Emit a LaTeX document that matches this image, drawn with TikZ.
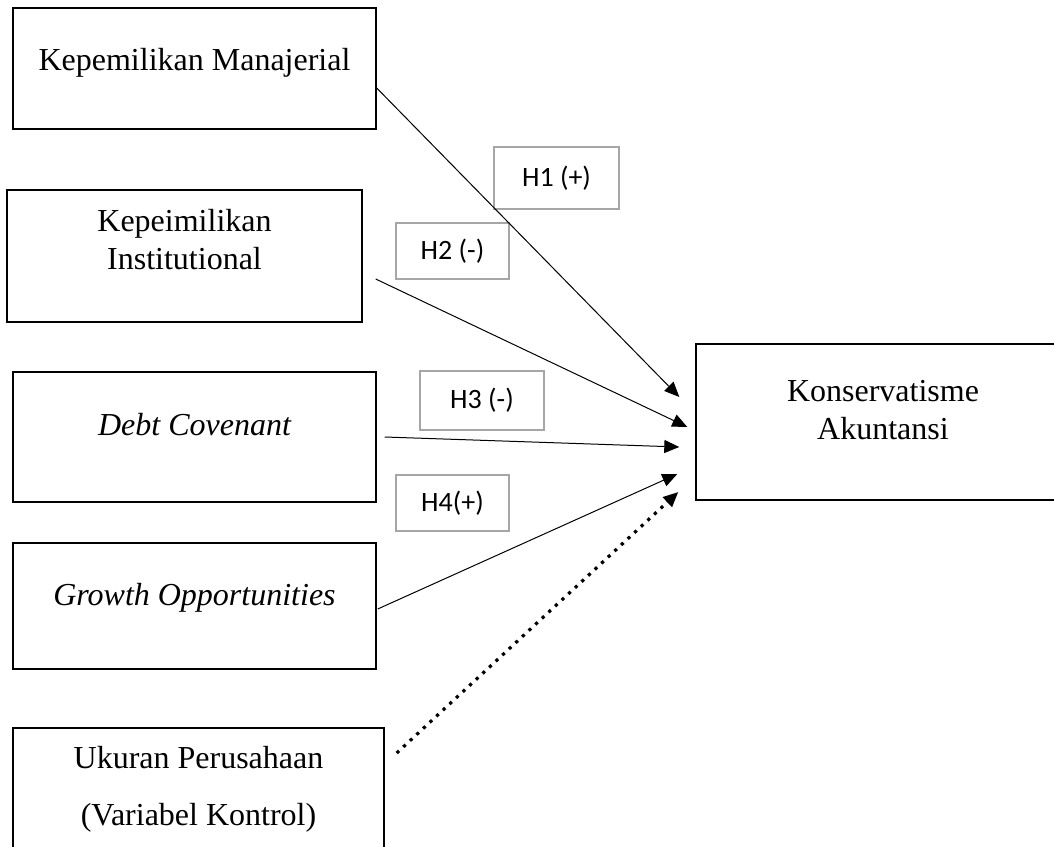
\documentclass[tikz,border=0pt]{standalone}
\usepackage{fontspec}
\setmainfont{Liberation Serif}
\newfontfamily\hypfont{Carlito}
\usetikzlibrary{arrows.meta,calc}
\definecolor{hypgray}{RGB}{166,166,166}
\tikzset{
    varbox/.style={draw, line width=0.7pt, inner sep=0pt},
    vartext/.style={align=center, font=\fontsize{16}{19}\selectfont, inner sep=0pt},
    hypbox/.style={draw=hypgray, line width=0.9pt, minimum width=56.5pt, minimum height=28pt, font=\hypfont\fontsize{14}{16}\selectfont},
    path/.style={line width=0.5pt, -{Triangle[length=7.5pt,width=6.5pt]}},
    ctrl/.style={line width=1.6pt, dash pattern=on 1.6pt off 2.9pt, -{Triangle[length=7.5pt,width=6.5pt]}}
}
\begin{document}
\begin{tikzpicture}[x=0.5pt, y=-0.5pt]
    \useasboundingbox (0,0) rectangle (1054,846);

    % variable boxes
    \node[varbox, minimum width=181.5pt, minimum height=60.5pt] (km) at (194.5,68.5) {};
    \node[varbox, minimum width=177.5pt, minimum height=66pt] (ki) at (184.5,256) {};
    \node[varbox, minimum width=181.5pt, minimum height=65pt] (dc) at (194.5,437) {};
    \node[varbox, minimum width=181.5pt, minimum height=63pt] (go) at (194.5,606) {};
    \node[varbox, minimum width=185.5pt, minimum height=71pt] (uk) at (198.5,799) {};
    \node[varbox, minimum width=187pt, minimum height=78pt] (ka) at (883,422) {};

    % box texts
    \node[vartext, anchor=base] (km-t) at (194.5,70) {Kepemilikan Manajerial};
    \node[vartext] (ki-t) at (184.5,240) {Kepeimilikan\\Institutional};
    \node[vartext, anchor=base] (dc-t) at (194.5,435) {\itshape Debt Covenant};
    \node[vartext, anchor=base] (go-t) at (194.5,605) {\itshape Growth Opportunities};
    \node[vartext] (uk-t) at (198.5,789) {Ukuran Perusahaan\\[9.5pt](Variabel Kontrol)};
    \node[vartext] (ka-t) at (883,410) {Konservatisme\\Akuntansi};

    % hypotheses
    \node[hypbox, minimum width=62.5pt, minimum height=31pt] (h1) at (556.5,178) {H1 (+)};
    \node[hypbox] (h2) at (452.5,251) {H2 (-)};
    \node[hypbox, minimum width=62pt, minimum height=29.5pt] (h3) at (482,400.5) {H3 (-)};
    \node[hypbox] (h4) at (452.5,503) {H4(+)};

    % arrows
    \draw[path] ($(km.east)+(0,19.5)$) -- ($(ka.west)+(-16,-25)$);
    \draw[path] ($(ki.east)+(13,23)$) -- ($(ka.west)+(-8,5)$);
    \draw[path] ($(dc.east)+(8,0)$) -- ($(ka.west)+(-16,25)$);
    \draw[path] ($(go.east)+(1,3)$) -- ($(ka.west)+(-18,52)$);
    \draw[ctrl] ($(uk.east)+(12,-46)$) -- ($(ka.west)+(-17,70)$);
\end{tikzpicture}
\end{document}
